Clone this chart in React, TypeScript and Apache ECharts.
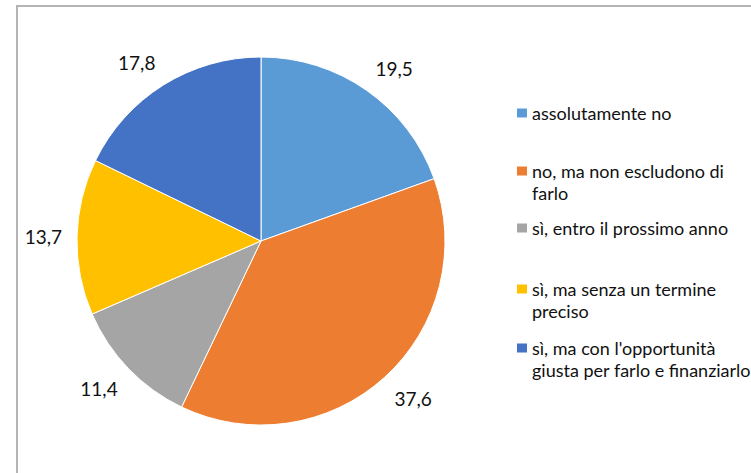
import React, { useEffect, useRef } from "react";
import * as echarts from "echarts";

const categories = [
  "assolutamente no",
  "no, ma non escludono di farlo",
  "sì, entro il prossimo anno",
  "sì, ma senza un termine preciso",
  "sì, ma con l'opportunità giusta per farlo e finanziarlo",
];
const values = [19.5, 37.6, 11.4, 13.7, 17.8];
const legendLines = [
  ["assolutamente no"],
  ["no, ma non escludono di", "farlo"],
  ["sì, entro il prossimo anno"],
  ["sì, ma senza un termine", "preciso"],
  ["sì, ma con l'opportunità", "giusta per farlo e finanziarlo"],
];
const colors = ["#5B9BD5", "#ED7D31", "#A5A5A5", "#FFC000", "#4472C4"];

const FONT = "Lato";
const LINE_H = 22;
const legendFirstLineY = [113, 171, 228, 289, 348];

export default function App() {
  const ref = useRef<HTMLDivElement>(null);
  useEffect(() => {
    if (!ref.current) return;
    const chart = echarts.init(ref.current, undefined, { renderer: "svg" });
    const data = categories.map((name, i) => ({ name, value: values[i] }));
    const legends = categories.map((name, i) => {
      const n = legendLines[i].length;
      // icon square sits beside the first text line
      const h = 9 + (n - 1) * LINE_H;
      const iconH = n > 1 ? 2 * (LINE_H * (n - 1) / 2 + 4.5) : 9;
      const icon =
        n > 1 ? `path://M0,0L10,0L10,9L0,9Z M0,${iconH}L10,${iconH}` : "rect";
      return {
        data: [name],
        orient: "vertical",
        left: 517,
        top: legendFirstLineY[i] - LINE_H / 2,
        padding: 0,
        itemWidth: 10,
        itemHeight: n > 1 ? iconH : 9,
        icon,
        selectedMode: false,
        itemStyle: { borderWidth: 0 },
        formatter: () => legendLines[i].join("\n"),
        textStyle: {
          fontFamily: FONT,
          fontSize: 18,
          color: "#111",
          lineHeight: LINE_H,
        },
        _h: h,
      };
    });
    chart.setOption({
      animation: false,
      backgroundColor: "#ffffff",
      color: colors,
      legend: legends,
      graphic: [
        {
          type: "rect",
          shape: { x: 17, y: 6, width: 800, height: 600 },
          style: { fill: "none", stroke: "#b4b4b4", lineWidth: 2 },
          silent: true,
        },
      ],
      series: [
        {
          type: "pie",
          center: [261, 241],
          radius: 184,
          startAngle: 90,
          clockwise: true,
          avoidLabelOverlap: false,
          data,
          label: {
            show: true,
            position: "outside",
            fontFamily: FONT,
            fontSize: 19,
            lineHeight: 19,
            color: "#111",
            formatter: (p: any) => String(p.value).replace(".", ","),
          },
          labelLine: {
            show: true,
            length: 15,
            length2: 0,
            lineStyle: { width: 0, opacity: 0 },
          },
          labelLayout: (p: any) => {
            const pts = p.labelLinePoints;
            if (!pts) return {};
            const dx = pts[1][0] - pts[0][0];
            const dy = pts[1][1] - pts[0][1];
            const len = Math.hypot(dx, dy) || 1;
            const ux = dx / len;
            const uy = dy / len;
            return {
              x: pts[1][0],
              y: pts[1][1],
              align: Math.abs(ux) < 0.3 ? "center" : ux < 0 ? "right" : "left",
              verticalAlign:
                Math.abs(uy) < 0.4 ? "middle" : uy < 0 ? "bottom" : "top",
            };
          },
          itemStyle: { borderColor: "#ffffff", borderWidth: 1 },
          emphasis: { disabled: true },
        },
      ],
    });
    return () => chart.dispose();
  }, []);
  return (
    <div
      ref={ref}
      style={{ position: "absolute", left: 0, top: 0, width: 751, height: 473 }}
    />
  );
}
